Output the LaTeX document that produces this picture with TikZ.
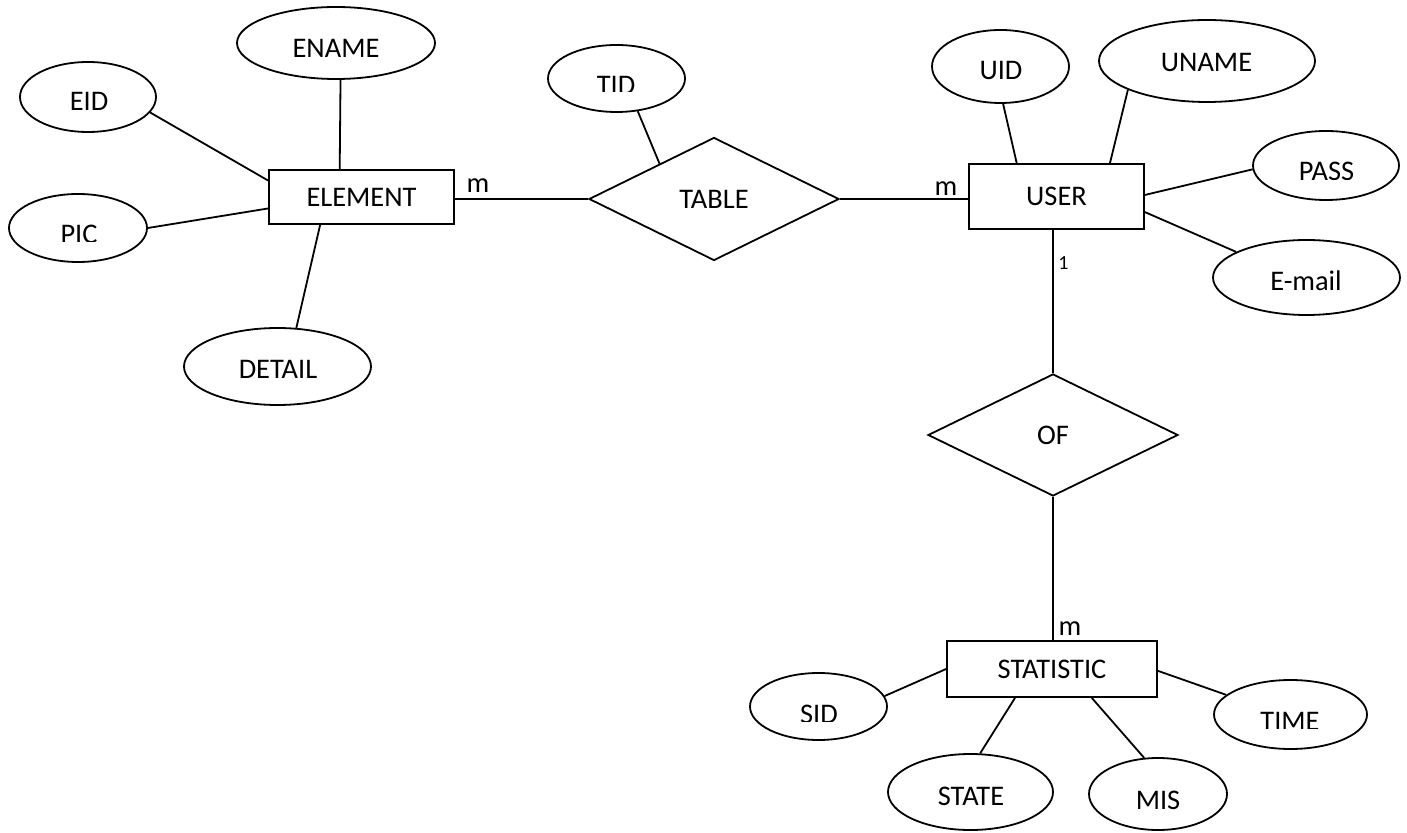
\documentclass[tikz,border=0pt]{standalone}
\usepackage{fontspec}
\setmainfont{Carlito}
\usetikzlibrary{shapes.geometric}
\begin{document}
\begin{tikzpicture}[x=0.5pt,y=-0.5pt,
  every node/.style={font=\fontsize{14.2}{17}\selectfont},
  conn/.style={line width=0.9pt},
  entity/.style={draw, line width=0.9pt, rectangle, inner sep=0pt},
  relation/.style={draw, line width=0.9pt, diamond, inner sep=0pt},
  attr/.style={draw, line width=0.9pt, ellipse, inner sep=0pt},
  lbl/.style={anchor=base, inner sep=0pt},
  card/.style={anchor=base, inner sep=0pt},
]
\useasboundingbox (0,0) rectangle (1407,833);

% entities and relations
\node[entity, minimum width=92.5pt, minimum height=27pt] (element) at (361.5,197) {ELEMENT};
\node[entity, minimum width=87.5pt, minimum height=32.5pt] (user) at (1056.5,196.5) {USER};
\node[entity, minimum width=105pt, minimum height=28pt] (statistic) at (1052,669) {STATISTIC};
\node[relation, minimum width=125pt, minimum height=61.5pt] (table) at (714,199) {TABLE};
\node[relation, minimum width=125pt, minimum height=61pt] (of) at (1053,435) {OF};

% attributes (shapes)
\node[attr, minimum width=99pt, minimum height=36pt] (ename) at (336,43) {};
\node[attr, minimum width=68pt, minimum height=35pt] (eid) at (88,97) {};
\node[attr, minimum width=69pt, minimum height=34pt] (pic) at (78,228) {};
\node[attr, minimum width=93.5pt, minimum height=38.5pt] (detail) at (277.5,366.5) {};
\node[attr, minimum width=68.5pt, minimum height=33.5pt] (tid) at (616.5,78.5) {};
\node[attr, minimum width=68.5pt, minimum height=36.5pt] (uid) at (1000.5,66.5) {};
\node[attr, minimum width=108pt, minimum height=41pt] (uname) at (1207,61) {};
\node[attr, minimum width=73pt, minimum height=34.5pt] (pass) at (1326,165.5) {};
\node[attr, minimum width=93.5pt, minimum height=37.5pt] (email) at (1306.5,277.5) {};
\node[attr, minimum width=68.5pt, minimum height=33.5pt] (sid) at (818.5,706.5) {};
\node[attr, minimum width=82.5pt, minimum height=38pt] (state) at (970.5,792) {};
\node[attr, minimum width=69pt, minimum height=36pt] (mis) at (1158,794) {};
\node[attr, minimum width=76.5pt, minimum height=34.5pt] (time) at (1290.5,714.5) {};

% attribute texts
\node[lbl] (t-ename) at (336,58) {ENAME};
\node[lbl] (t-eid) at (89,111) {EID};
\node[lbl] (t-detail) at (278,379) {DETAIL};
\node[lbl] (t-uid) at (1001,80) {UID};
\node[lbl] (t-uname) at (1206.5,72) {UNAME};
\node[lbl] (t-email) at (1306,290.5) {E-mail};
\node[lbl] (t-state) at (971,805) {STATE};
\node[lbl] (t-mis) at (1158,809) {MIS};
\begin{scope}
  \clip (9,195) rectangle (147,242);
  \node[lbl] (t-pic) at (79,244) {PIC};
\end{scope}
\begin{scope}
  \clip (548,45) rectangle (685,92);
  \node[lbl] (t-tid) at (616,95) {TID};
\end{scope}
\begin{scope}
  \clip (750,673) rectangle (887,721);
  \node[lbl] (t-sid) at (819,723) {SID};
\end{scope}
\begin{scope}
  \clip (1253,131) rectangle (1399,179.5);
  \node[lbl] (t-pass) at (1326.5,181) {PASS};
\end{scope}
\begin{scope}
  \clip (1214,680) rectangle (1367,728.5);
  \node[lbl] (t-time) at (1290,730) {TIME};
\end{scope}

% connectors
\draw[conn] (eid.-14.25) -- (element.170.8);
\draw[conn] (ename.-83.7) -- (element.128.5);
\draw[conn] (pic.0.8) -- (element.187.4);
\draw[conn] (detail.64.3) -- (element.214.35);
\draw[conn] (element.east |- table.west) -- (table.west);
\draw[conn] (tid.-57.1) -- (table.147.5);
\draw[conn] (table.east) -- (user.west |- table.east);
\draw[conn] (uid.-86.8) -- (user.140.6);
\draw[conn] (uname.200.3) -- (user.32.25);
\draw[conn] (pass.183.9) -- (user.1.6);
\draw[conn] (email.160.1) -- (user.-10);
\draw[conn] (of.north |- user.south) -- (of.north);
\draw[conn] (of.south) -- (of.south |- statistic.north);
\draw[conn] (sid.9.5) -- (statistic.180.5);
\draw[conn] (state.76.3) -- (statistic.218.7);
\draw[conn] (mis.111.25) -- (statistic.-36.4);
\draw[conn] (time.163.4) -- (statistic.-1.1);

% cardinalities
\node[card] (m1) at (478,193) {m};
\node[card] (m2) at (946,196) {m};
\node[card, font=\fontsize{10}{12}\selectfont] (c1) at (1063.5,270) {1};
\node[card] (m3) at (1070,635) {m};
\end{tikzpicture}
\end{document}
